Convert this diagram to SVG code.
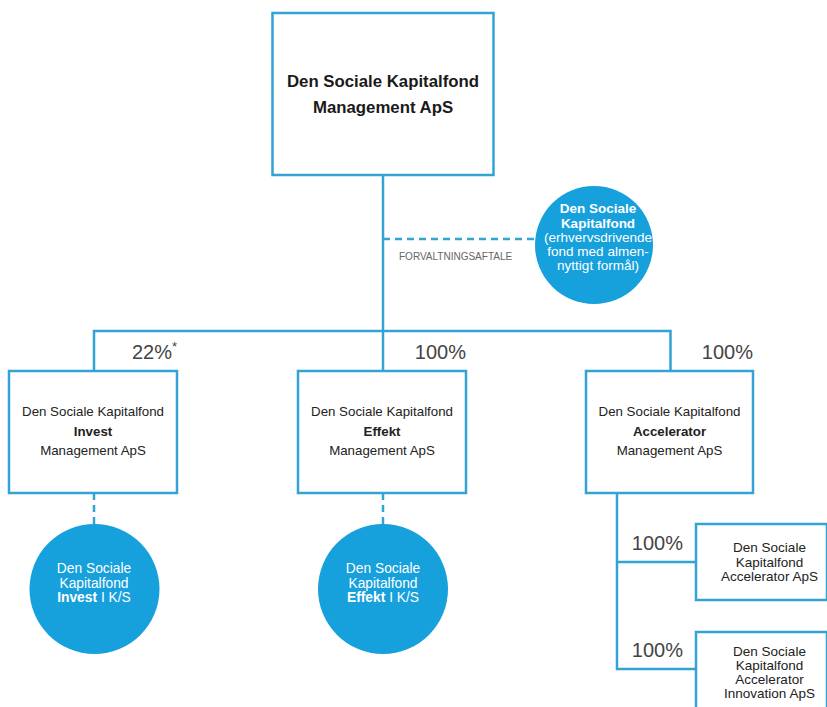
<svg xmlns="http://www.w3.org/2000/svg" width="827" height="707" viewBox="0 0 827 707">
<style>
.box{fill:#fff;stroke:#33a2d4;stroke-width:2.5}
.ln{fill:none;stroke:#33a2d4;stroke-width:2.5}
.dash{fill:none;stroke:#33a2d4;stroke-width:2.5;stroke-dasharray:7 5}
.circ{fill:#16a0dc}
.t{font-family:"Liberation Sans",Arial,sans-serif;text-anchor:middle;fill:#222}
.top{font-size:16.8px;font-weight:bold;fill:#1a1a1a}
.mid{font-size:13.3px}
.ct{font-size:13.8px;fill:#fff}
.ct2{font-size:13.5px;fill:#fff}
.sm{font-size:13.5px}
.pct{font-family:"Liberation Sans",Arial,sans-serif;font-size:20px;fill:#444;text-anchor:end}
.lbl{font-family:"Liberation Sans",Arial,sans-serif;font-size:10px;fill:#666}
.b{font-weight:bold}
</style>
<rect width="827" height="707" fill="#fff"/>
<g id="connectors">
<path class="ln" d="M383 175V371"/>
<path class="ln" d="M94 371V331H670.5V371"/>
<path class="dash" d="M383 239H534"/>
<path class="dash" d="M94 493V524"/>
<path class="dash" d="M383 493V524"/>
<path class="ln" d="M617 493V669H696M617 562H696"/>
</g>
<g id="labels">
<text class="lbl" x="399" y="260">FORVALTNINGSAFTALE</text>
<text class="pct" x="177" y="359">22%<tspan font-size="13" dy="-8">*</tspan></text>
<text class="pct" x="466" y="359">100%</text>
<text class="pct" x="753" y="359">100%</text>
<text class="pct" x="683" y="550">100%</text>
<text class="pct" x="683" y="657">100%</text>
</g>
<g id="n-top">
<rect class="box" x="272.5" y="13" width="221" height="162"/>
<text class="t top" x="383" y="87">Den Sociale Kapitalfond</text>
<text class="t top" x="383" y="113">Management ApS</text>
</g>
<g id="n-fond">
<circle class="circ" cx="594" cy="245" r="59"/>
<text class="t ct2 b" x="598" y="213">Den Sociale</text>
<text class="t ct2 b" x="598" y="227.5">Kapitalfond</text>
<text class="t ct2" x="598" y="242">(erhvervsdrivende</text>
<text class="t ct2" x="598" y="256">fond med almen-</text>
<text class="t ct2" x="598" y="270">nyttigt formål)</text>
</g>
<g id="n-invest">
<rect class="box" x="9" y="371" width="168" height="122"/>
<text class="t mid" x="93" y="416">Den Sociale Kapitalfond</text>
<text class="t mid b" x="93" y="435.5">Invest</text>
<text class="t mid" x="93" y="455">Management ApS</text>
</g>
<g id="n-effekt">
<rect class="box" x="298" y="371" width="168" height="122"/>
<text class="t mid" x="382" y="416">Den Sociale Kapitalfond</text>
<text class="t mid b" x="382" y="435.5">Effekt</text>
<text class="t mid" x="382" y="455">Management ApS</text>
</g>
<g id="n-accel">
<rect class="box" x="586" y="371" width="167" height="122"/>
<text class="t mid" x="669.5" y="416">Den Sociale Kapitalfond</text>
<text class="t mid b" x="669.5" y="435.5">Accelerator</text>
<text class="t mid" x="669.5" y="455">Management ApS</text>
</g>
<g id="n-invest-ks">
<circle class="circ" cx="94.5" cy="589" r="65"/>
<text class="t ct" x="94" y="573">Den Sociale</text>
<text class="t ct" x="94" y="587.5">Kapitalfond</text>
<text class="t ct" x="94" y="602"><tspan class="b">Invest</tspan> I  K/S</text>
</g>
<g id="n-effekt-ks">
<circle class="circ" cx="383" cy="589" r="65"/>
<text class="t ct" x="383" y="573">Den Sociale</text>
<text class="t ct" x="383" y="587.5">Kapitalfond</text>
<text class="t ct" x="383" y="602"><tspan class="b">Effekt</tspan> I K/S</text>
</g>
<g id="n-accel-aps">
<rect class="box" x="696" y="524" width="131" height="76"/>
<text class="t sm" x="769.5" y="552">Den Sociale</text>
<text class="t sm" x="769.5" y="566.5">Kapitalfond</text>
<text class="t sm" x="769.5" y="581">Accelerator ApS</text>
</g>
<g id="n-accel-innov">
<rect class="box" x="696" y="632" width="131" height="90"/>
<text class="t sm" x="769.5" y="656">Den Sociale</text>
<text class="t sm" x="769.5" y="670">Kapitalfond</text>
<text class="t sm" x="769.5" y="684">Accelerator</text>
<text class="t sm" x="769.5" y="698">Innovation ApS</text>
</g>
</svg>
